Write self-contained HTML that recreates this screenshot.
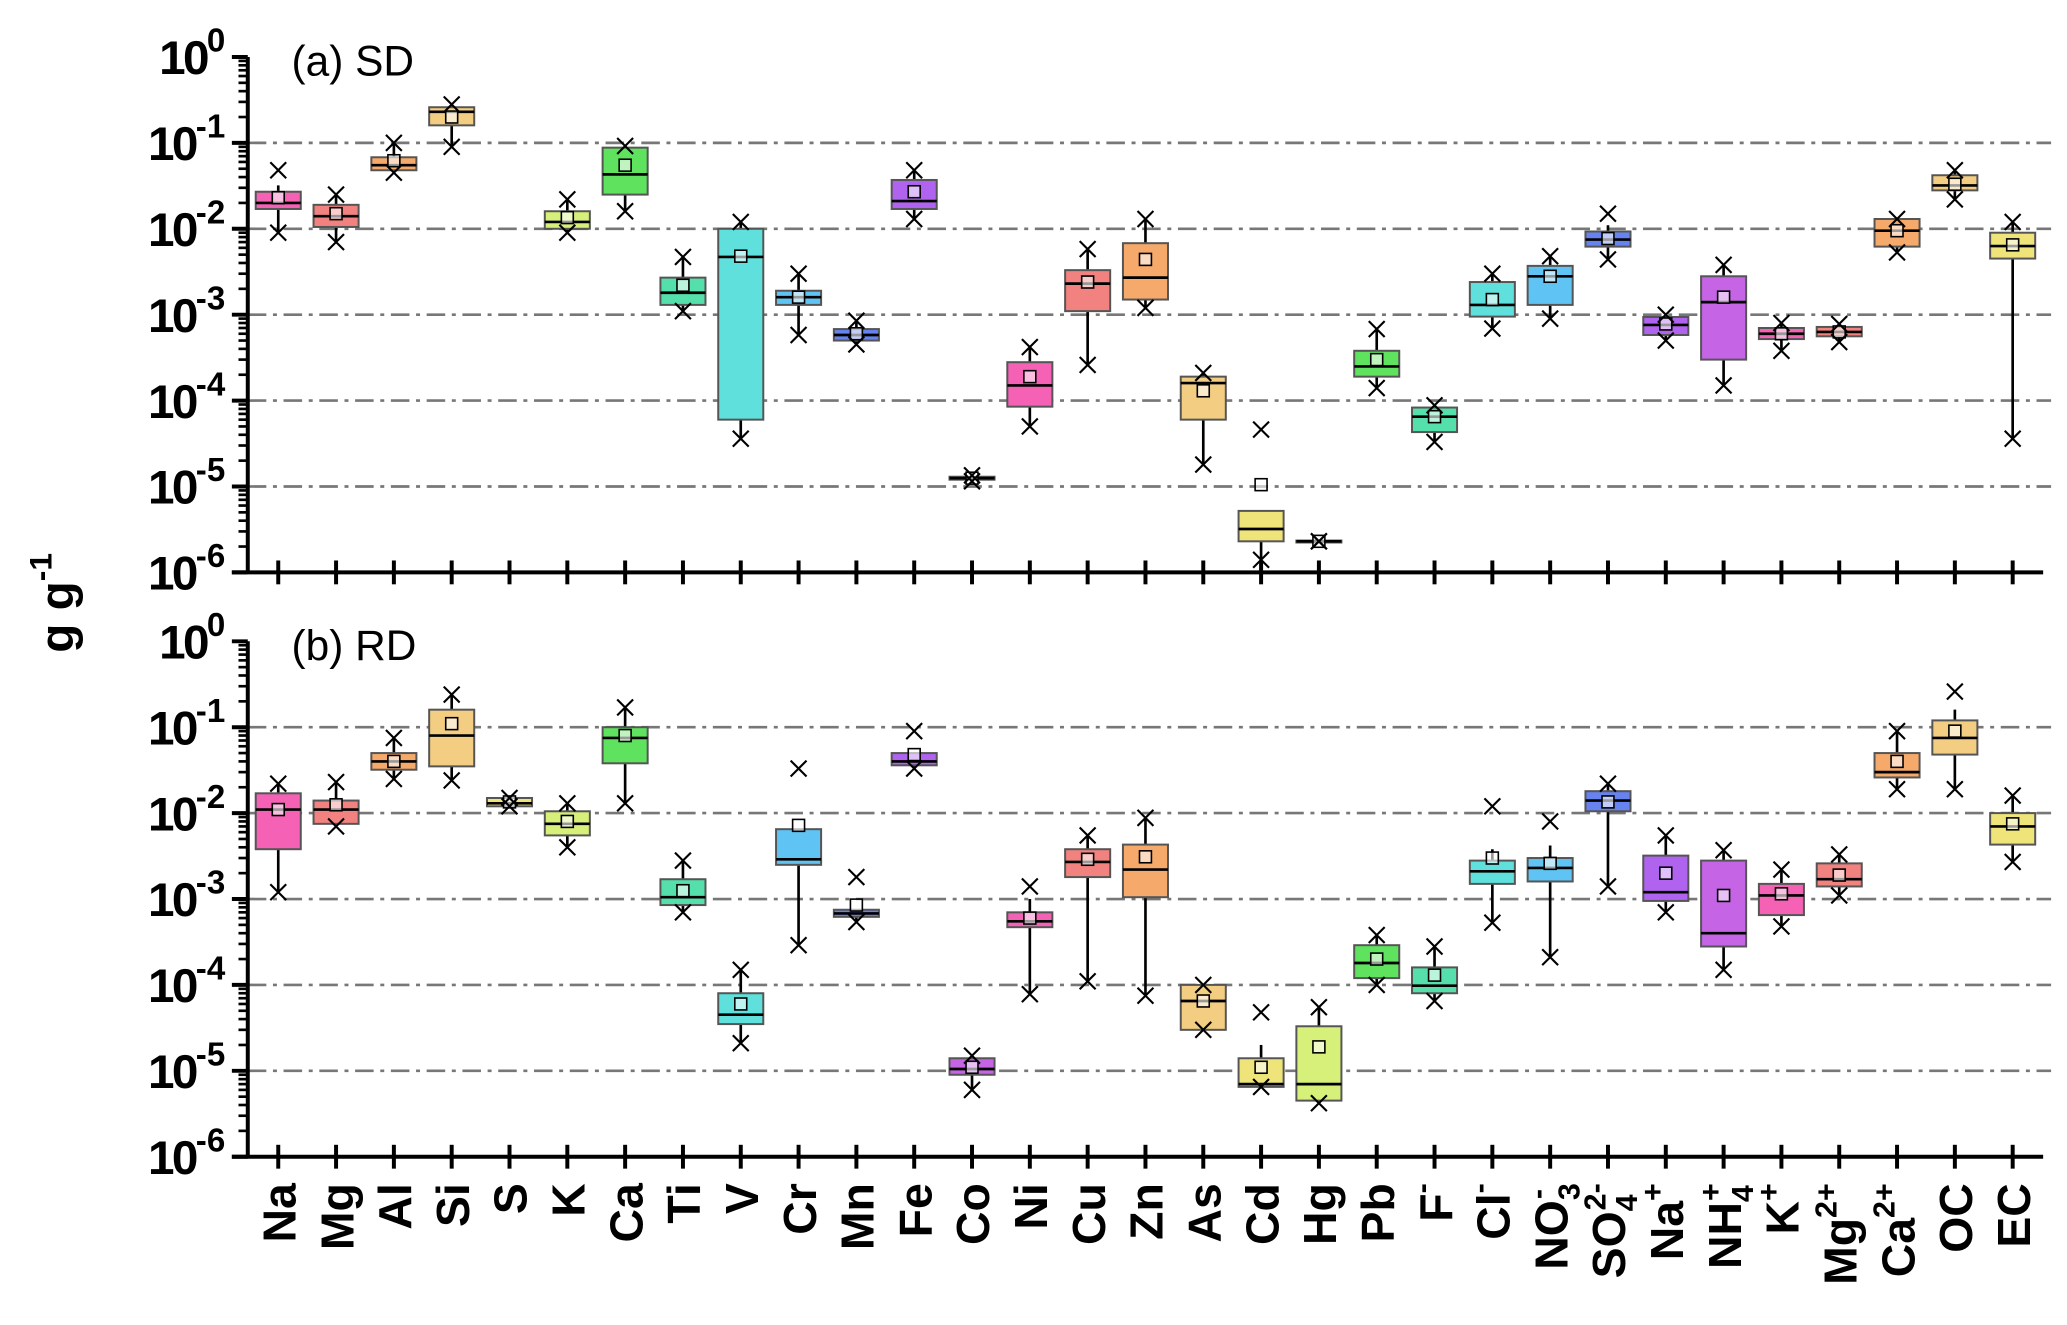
<!DOCTYPE html>
<html><head><meta charset="utf-8"><style>
html,body{margin:0;padding:0;background:#fff}
svg{display:block}
text{font-family:"Liberation Sans",sans-serif;fill:#000}
</style></head><body>
<svg id="chart" width="2067" height="1325" viewBox="0 0 1560 1000" xmlns="http://www.w3.org/2000/svg"></svg>
<script>
const categories=["Na","Mg","Al","Si","S","K","Ca","Ti","V","Cr","Mn","Fe","Co","Ni","Cu","Zn","As","Cd","Hg","Pb","F-","Cl-","NO3-","SO42-","Na+","NH4+","K+","Mg2+","Ca2+","OC","EC"];
const yTickExps=[0,-1,-2,-3,-4,-5,-6];
// SD
const sdQ1=[0.017,0.0105,0.048,0.16,null,0.01,0.025,0.0013,6e-5,0.0013,5e-4,0.017,1.2e-5,8.5e-5,0.0011,0.0015,6e-5,2.3e-6,2.25e-6,1.9e-4,4.3e-5,9.5e-4,0.0013,0.0062,5.8e-4,3e-4,5.2e-4,5.6e-4,0.0062,0.028,0.0045];
const sdMed=[0.02,0.014,0.055,0.23,null,0.012,0.043,0.0018,0.0047,0.0016,5.8e-4,0.021,1.25e-5,1.5e-4,0.0023,0.0027,1.6e-4,3.2e-6,2.3e-6,2.5e-4,6.5e-5,0.0013,0.0028,0.0075,7.6e-4,0.0014,6e-4,6.3e-4,0.0095,0.032,0.0063];
const sdQ3=[0.027,0.019,0.068,0.26,null,0.016,0.088,0.0027,0.01,0.0019,6.8e-4,0.037,1.3e-5,2.8e-4,0.0033,0.0068,1.9e-4,5.2e-6,2.35e-6,3.8e-4,8.3e-5,0.0024,0.0037,0.0093,9.4e-4,0.0028,7e-4,7.2e-4,0.013,0.042,0.009];
const sdMean=[0.023,0.015,0.062,0.2,null,0.0135,0.055,0.0022,0.0048,0.0016,6e-4,0.027,1.25e-5,1.9e-4,0.0024,0.0044,1.3e-4,1.05e-5,2.3e-6,3e-4,6.5e-5,0.0015,0.0028,0.0077,7.8e-4,0.0016,6e-4,6.3e-4,0.0095,0.033,0.0065];
const sdWLo=[0.009,0.007,0.045,0.09,null,0.009,0.016,0.0011,3.6e-5,5.8e-4,4.5e-4,0.013,1.15e-5,5e-5,2.6e-4,0.0012,1.8e-5,1.4e-6,2.3e-6,1.4e-4,3.3e-5,6.9e-4,9e-4,0.0044,5e-4,1.5e-4,3.8e-4,4.8e-4,0.0053,0.022,3.6e-5];
const sdWHi=[0.032,0.025,0.1,0.27,null,0.022,0.092,0.0047,0.012,0.003,8.5e-4,0.048,1.35e-5,4.2e-4,0.0058,0.013,2.1e-4,5.2e-6,2.3e-6,6.8e-4,8.8e-5,0.003,0.0048,0.011,0.001,0.0038,8e-4,7.8e-4,0.013,0.048,0.012];
const sdXMax=[0.048,0.025,0.1,0.28,null,0.022,0.092,0.0047,0.012,0.003,8.5e-4,0.048,1.35e-5,4.2e-4,0.0058,0.013,2.1e-4,4.6e-5,2.3e-6,6.8e-4,8.8e-5,0.003,0.0048,0.015,0.001,0.0038,8e-4,7.8e-4,0.013,0.048,0.012];
// RD
const rdQ1=[0.0038,0.0075,0.032,0.035,0.012,0.0055,0.038,8.5e-4,3.5e-5,0.0025,6.2e-4,0.036,9e-6,4.7e-4,0.0018,0.00105,3e-5,6.5e-6,4.5e-6,1.2e-4,8e-5,0.0015,0.0016,0.0105,9.5e-4,2.8e-4,6.5e-4,0.0014,0.026,0.048,0.0043];
const rdMed=[0.011,0.011,0.04,0.08,0.013,0.0075,0.075,0.00105,4.5e-5,0.0029,6.8e-4,0.04,1.05e-5,5.5e-4,0.0027,0.0022,6.5e-5,7e-6,7e-6,1.8e-4,9.8e-5,0.0021,0.0023,0.014,0.0012,4e-4,0.0011,0.0017,0.03,0.075,0.007];
const rdQ3=[0.017,0.014,0.05,0.16,0.015,0.0105,0.1,0.0017,8e-5,0.0065,7.5e-4,0.05,1.4e-5,7e-4,0.0038,0.0043,1e-4,1.4e-5,3.3e-5,2.9e-4,1.6e-4,0.0028,0.003,0.018,0.0032,0.0028,0.0015,0.0026,0.05,0.12,0.01];
const rdMean=[0.011,0.0125,0.04,0.11,0.0135,0.008,0.08,0.00125,6e-5,0.0072,8.5e-4,0.048,1.1e-5,6e-4,0.0029,0.0031,6.5e-5,1.1e-5,1.9e-5,2e-4,1.3e-4,0.003,0.0026,0.0135,0.002,0.0011,0.00115,0.0019,0.04,0.09,0.0075];
const rdWLo=[0.0012,0.007,0.025,0.024,0.012,0.004,0.013,7e-4,2.1e-5,2.9e-4,5.4e-4,0.033,6e-6,7.8e-5,1.1e-4,7.5e-5,3e-5,6.5e-6,4.2e-6,1e-4,6.5e-5,5.3e-4,2.1e-4,0.0014,7e-4,1.5e-4,4.8e-4,0.0011,0.019,0.019,0.0027];
const rdWHi=[0.022,0.023,0.075,0.24,0.015,0.013,0.17,0.0028,1.5e-4,0.0065,7.5e-4,0.05,1.5e-5,0.001,0.0055,0.0088,1e-4,2e-5,5.5e-5,3.8e-4,2.8e-4,0.0038,0.0042,0.022,0.0055,0.0037,0.0022,0.0033,0.09,0.16,0.016];
const rdXMax=[0.022,0.023,0.075,0.24,0.015,0.013,0.17,0.0028,1.5e-4,0.033,0.0018,0.09,1.5e-5,0.0014,0.0055,0.0088,1e-4,4.8e-5,5.5e-5,3.8e-4,2.8e-4,0.012,0.008,0.022,0.0055,0.0037,0.0022,0.0033,0.09,0.26,0.016];

const palette=["#f461b5","#f2827f","#f5a96a","#f2cd82","#eee47a","#d6f07a","#5fe35f","#55e0ab","#5fe0dc","#5fc3f3","#6683ef","#b063ee","#c564e4"];
const NS="http://www.w3.org/2000/svg";
const svg=document.getElementById('chart');
function el(tag,attrs,parent){const e=document.createElementNS(NS,tag);for(const k in attrs)e.setAttribute(k,attrs[k]);(parent||svg).appendChild(e);return e;}
const X0=210,DX=(1519-210)/30,AXL=187,AXR=1542;
function xPos(i){return X0+i*DX;}

function drawPanel(top,bottom,tag,title,Q1,MED,Q3,MEAN,WLO,WHI,XMAX){
  const g=el('g',{});
  
  
  const dec=(bottom-top)/6;
  const y=v=>top+(-Math.log10(v))*dec;
  for(let e=-1;e>=-5;e--){
    const l=el('line',{x1:AXL,x2:1548,y1:y(Math.pow(10,e)),y2:y(Math.pow(10,e)),stroke:'#777','stroke-width':2,'stroke-dasharray':'14 5 3 5'},g);
    
    
  }
  const ya=el('line',{x1:AXL,x2:AXL,y1:top,y2:bottom,stroke:'#000','stroke-width':3},g);
  
  
  const xa=el('line',{x1:175,x2:AXR,y1:bottom,y2:bottom,stroke:'#000','stroke-width':3},g);
  
  
  yTickExps.forEach(e=>{
    const yy=y(Math.pow(10,e));
    el('line',{x1:175,x2:AXL,y1:yy,y2:yy,stroke:'#000','stroke-width':3},g);
    if(e>-6){for(let m=2;m<=9;m++){const ym=y(m*Math.pow(10,e-1));el('line',{x1:180,x2:AXL,y1:ym,y2:ym,stroke:'#000','stroke-width':2},g);}}
    const t=el('text',{x:170,y:yy+13,'text-anchor':'end','font-size':36,'font-weight':'bold','letter-spacing':-2},g);
    
    
    t.textContent='10';
    const s=el('tspan',{'font-size':25,dy:-17,'letter-spacing':0},t);s.textContent=String(e);
  });
  categories.forEach((c,i)=>{
    const x=xPos(i);
    el('line',{x1:x,x2:x,y1:bottom-9,y2:bottom+9,stroke:'#000','stroke-width':3},g);
  });
  const tl=el('text',{x:220,y:top+14,'font-size':32},g);
  
  
  tl.textContent=title;
  categories.forEach((c,i)=>{
    if(Q1[i]==null)return;
    const x=xPos(i),w=34,col=palette[i%13];
    const bg=el('g',{},g);
    
    
    el('line',{x1:x,x2:x,y1:y(WHI[i]),y2:y(WLO[i]),stroke:'#000','stroke-width':2},bg);
    const yq3=y(Q3[i]),yq1=y(Q1[i]);
    el('rect',{x:x-w/2,y:yq3,width:w,height:Math.max(yq1-yq3,1.5),fill:col,stroke:'#555','stroke-width':1.5},bg);
    el('line',{x1:x-w/2,x2:x+w/2,y1:y(MED[i]),y2:y(MED[i]),stroke:'#000','stroke-width':2},bg);
    const ym=y(MEAN[i]);
    el('rect',{x:x-4.5,y:ym-4.5,width:9,height:9,fill:'#fff','fill-opacity':0.6,stroke:'#000','stroke-width':1.2},bg);
    [y(WLO[i]),y(XMAX[i])].forEach(yy=>{
      el('path',{d:`M${x-6} ${yy-6}L${x+6} ${yy+6}M${x-6} ${yy+6}L${x+6} ${yy-6}`,stroke:'#000','stroke-width':1.6,fill:'none'},bg);
    });
  });
}
drawPanel(43,432,'sd','(a) SD',sdQ1,sdMed,sdQ3,sdMean,sdWLo,sdWHi,sdXMax);
drawPanel(484,873,'rd','(b) RD',rdQ1,rdMed,rdQ3,rdMean,rdWLo,rdWHi,rdXMax);

const labelParts={"F-":[["F",""],["-","sup"]],"Cl-":[["Cl",""],["-","sup"]],"NO3-":[["NO",""],["3","sub"],["-","sup2"]],"SO42-":[["SO",""],["4","sub"],["2-","sup2"]],"Na+":[["Na",""],["+","sup"]],"NH4+":[["NH",""],["4","sub"],["+","sup2"]],"K+":[["K",""],["+","sup"]],"Mg2+":[["Mg",""],["2+","sup"]],"Ca2+":[["Ca",""],["2+","sup"]]};
categories.forEach((c,i)=>{
  const x=xPos(i)+13;
  const t=el('text',{transform:`translate(${x},893) rotate(-90)`,'text-anchor':'end','font-size':35,'font-weight':'bold'});
  
  
  const parts=labelParts[c]||[[c,""]];
  parts.forEach(p=>{
    const s=el('tspan',{},t);
    if(p[1]=='sup'){s.setAttribute('font-size',23);s.setAttribute('dy',-15);}
    else if(p[1]=='sub'){s.setAttribute('font-size',23);s.setAttribute('dy',9);}
    else if(p[1]=='sup2'){s.setAttribute('font-size',23);s.setAttribute('dy',-24);s.setAttribute('dx',-12);}
    s.textContent=p[0];
  });
});
const yl=el('text',{transform:'translate(55,455) rotate(-90)','text-anchor':'middle','font-size':36,'font-weight':'bold'});


yl.textContent='g g';
const ys=el('tspan',{'font-size':24,dy:-16},yl);ys.textContent='-1';
</script>
</body></html>
